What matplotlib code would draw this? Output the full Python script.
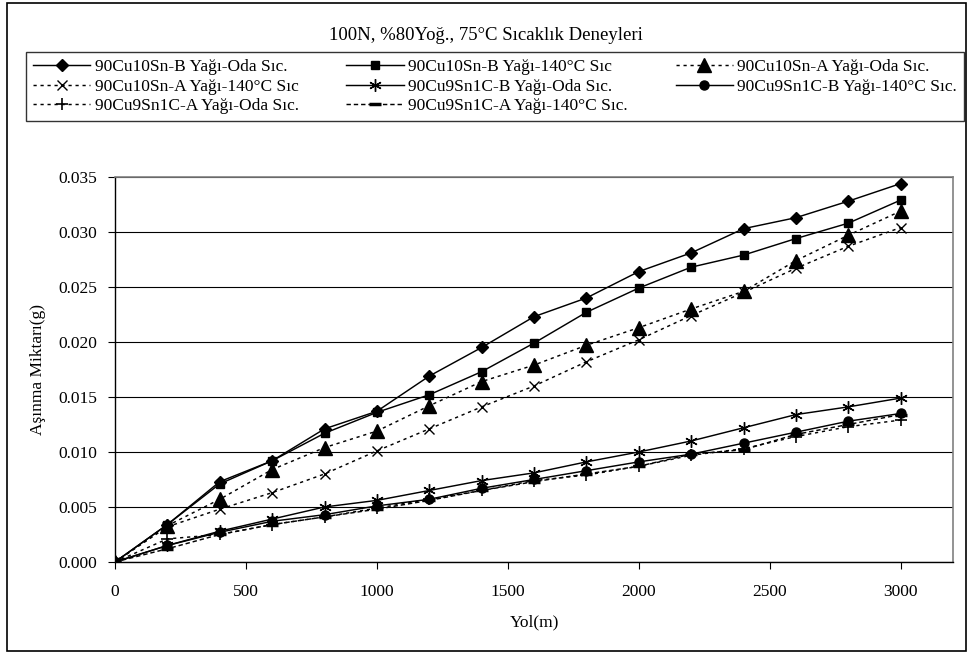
import matplotlib
matplotlib.use("Agg")
import matplotlib.pyplot as plt
from matplotlib.patches import Rectangle

plt.rcParams['font.family'] = ['Liberation Serif', 'DejaVu Serif']

# Sliding distance (m)
yol = [0, 200, 400, 600, 800, 1000, 1200, 1400, 1600, 1800, 2000, 2200, 2400, 2600, 2800, 3000]

# Wear amount (g) for each material / oil / temperature combination
cu10sn_b_oda = [0, 0.0034, 0.0073, 0.0092, 0.0121, 0.0137, 0.0169, 0.0195, 0.0223, 0.0240, 0.0264, 0.0281, 0.0303, 0.0313, 0.0328, 0.0344]
cu10sn_b_140 = [0, 0.0034, 0.0071, 0.0092, 0.0117, 0.0136, 0.0152, 0.0173, 0.0199, 0.0227, 0.0249, 0.0268, 0.0279, 0.0294, 0.0308, 0.0329]
cu10sn_a_oda = [0, 0.0033, 0.0057, 0.0084, 0.0104, 0.0119, 0.0142, 0.0164, 0.0179, 0.0197, 0.0213, 0.0230, 0.0246, 0.0274, 0.0297, 0.0319]
cu10sn_a_140 = [0, 0.0032, 0.0048, 0.0063, 0.0080, 0.0101, 0.0121, 0.0141, 0.0160, 0.0182, 0.0202, 0.0224, 0.0245, 0.0267, 0.0287, 0.0304]
cu9sn1c_b_oda = [0, 0.0015, 0.0028, 0.0039, 0.0050, 0.0056, 0.0065, 0.0074, 0.0081, 0.0091, 0.0100, 0.0110, 0.0122, 0.0134, 0.0141, 0.0149]
cu9sn1c_b_140 = [0, 0.0015, 0.0027, 0.0037, 0.0043, 0.0051, 0.0057, 0.0067, 0.0075, 0.0083, 0.0091, 0.0098, 0.0108, 0.0118, 0.0128, 0.0135]
cu9sn1c_a_oda = [0, 0.0021, 0.0025, 0.0034, 0.0041, 0.0049, 0.0057, 0.0065, 0.0074, 0.0079, 0.0087, 0.0097, 0.0103, 0.0114, 0.0123, 0.0129]
cu9sn1c_a_140 = [0, 0.0012, 0.0025, 0.0034, 0.0041, 0.0048, 0.0056, 0.0065, 0.0073, 0.0080, 0.0087, 0.0098, 0.0102, 0.0116, 0.0125, 0.0134]

labels = [
    "90Cu10Sn-B Yağı-Oda Sıc.",
    "90Cu10Sn-B Yağı-140°C Sıc",
    "90Cu10Sn-A Yağı-Oda Sıc.",
    "90Cu10Sn-A Yağı-140°C Sıc",
    "90Cu9Sn1C-B Yağı-Oda Sıc.",
    "90Cu9Sn1C-B Yağı-140°C Sıc.",
    "90Cu9Sn1C-A Yağı-Oda Sıc.",
    "90Cu9Sn1C-A Yağı-140°C Sıc.",
]
title = "100N, %80Yoğ., 75°C Sıcaklık Deneyleri"
x_ticks = [0, 500, 1000, 1500, 2000, 2500, 3000]
y_ticks = [0.000, 0.005, 0.010, 0.015, 0.020, 0.025, 0.030, 0.035]

series = [cu10sn_b_oda, cu10sn_b_140, cu10sn_a_oda, cu10sn_a_140,
          cu9sn1c_b_oda, cu9sn1c_b_140, cu9sn1c_a_oda, cu9sn1c_a_140]

dot = (0, (2.2, 2.6))
styles = [
    dict(marker='D', ms=6.2, ls='-'),
    dict(marker='s', ms=6.0, ls='-'),
    dict(marker='^', ms=9.5, ls=dot),
    dict(marker='x', ms=7.5, ls=dot, mew=1.0),
    dict(marker=(6, 2, 0), ms=9, ls='-', mew=1.0),
    dict(marker='o', ms=6.5, ls='-'),
    dict(marker='+', ms=9, ls=dot, mew=1.2),
    dict(marker='_', ms=8, ls=(0, (3, 2)), mew=2.5),
]

fig = plt.figure(figsize=(9.72, 6.54), dpi=100)
ax = fig.add_axes([0.1183, 0.1407, 0.8622, 0.5887])

handles = []
for vals, lab, st in zip(series, labels, styles):
    h, = ax.plot(yol, vals, color='black', lw=1.05, mfc='black', mec='black',
                 label=lab, **st)
    handles.append(h)

ax.set_xlim(0, 3200)
ax.set_ylim(0, 0.035)
ax.set_xticks(x_ticks)
ax.set_yticks(y_ticks)
ax.set_yticklabels([f"{v:.3f}" for v in y_ticks])
ax.tick_params(axis='both', labelsize=12.5, direction='out', length=5, width=0.8,
               color='black', pad=8)
ax.tick_params(axis='x', pad=11)
ax.yaxis.grid(True, color='black', lw=0.8)
ax.set_axisbelow(True)
for side in ('top', 'right'):
    ax.spines[side].set_color('#808080')
    ax.spines[side].set_linewidth(1.2)
for side in ('left', 'bottom'):
    ax.spines[side].set_color('black')
    ax.spines[side].set_linewidth(1.0)

ax.set_xlabel("Yol(m)", fontsize=12.5, labelpad=10)
ax.set_ylabel("Aşınma Miktarı(g)", fontsize=12.5, labelpad=9)

fig.text(0.5, 1 - 35 / 654, title, ha='center', va='center', fontsize=13.5)

# Legend laid out row by row: three columns, filled column-wise by matplotlib
order = [0, 3, 6, 1, 4, 7, 2, 5]
leg = fig.legend([handles[i] for i in order], [labels[i] for i in order],
                 ncol=3, loc='upper left',
                 bbox_to_anchor=(26 / 972, 1 - 126 / 654, 938 / 972, 74 / 654),
                 mode='expand', fontsize=12.5, frameon=True, fancybox=False,
                 edgecolor='black', handlelength=3.3, handletextpad=0.25,
                 borderaxespad=0, borderpad=0.4, labelspacing=0.2,
                 columnspacing=0.6)
leg.get_frame().set_linewidth(1.0)

fig.add_artist(Rectangle((7 / 972, 3 / 654), 959 / 972, 648 / 654,
                         transform=fig.transFigure, fill=False,
                         edgecolor='black', lw=1.2))

fig.savefig("out.png", dpi=100)
